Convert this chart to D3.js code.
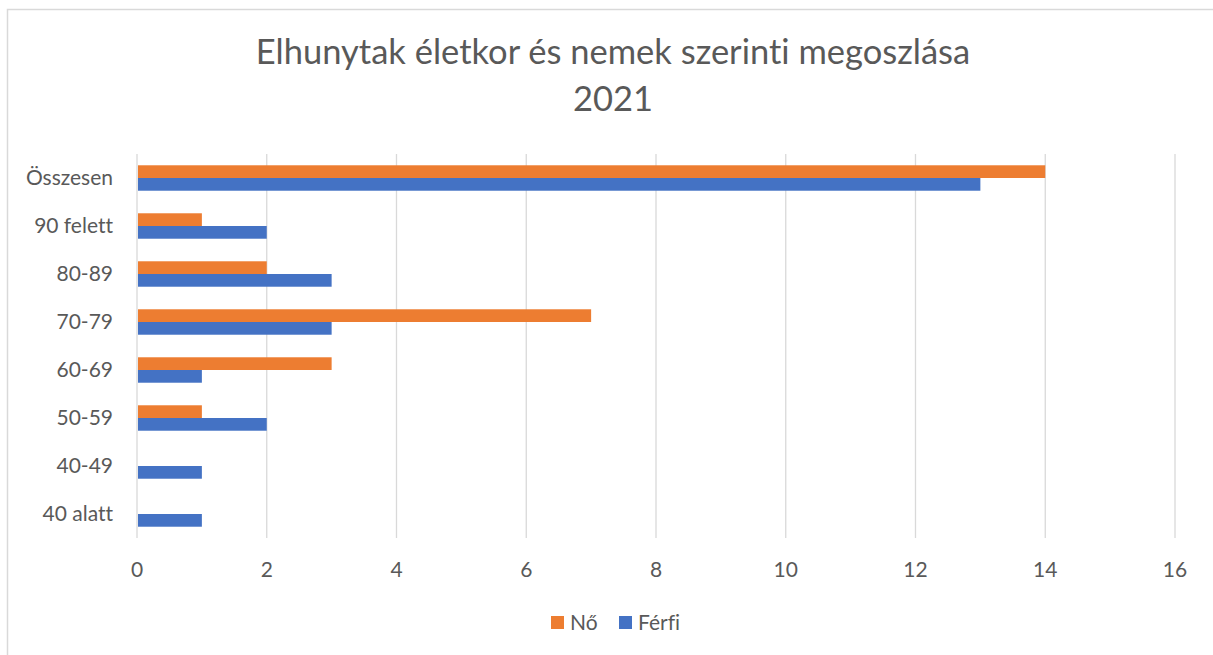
<!DOCTYPE html>
<html>
<head>
<meta charset="utf-8">
<script src="https://cdn.jsdelivr.net/npm/d3@7"></script>
<style>
  body { margin: 0; background: #fff; }
  text { font-family: Lato, "Open Sans", sans-serif; fill: #595959; font-variant-ligatures: none; }
</style>
</head>
<body>
<svg id="chart" width="1213" height="655"></svg>
<script>
const categories = ['Összesen', '90 felett', '80-89', '70-79', '60-69', '50-59', '40-49', '40 alatt']
const seriesNames = ['Nő', 'Férfi']
const noValues = [14, 1, 2, 7, 3, 1, 0, 0]
const ferfiValues = [13, 2, 3, 3, 1, 2, 1, 1]
const xTicks = [0, 2, 4, 6, 8, 10, 12, 14, 16]
const titleLines = ['Elhunytak életkor és nemek szerinti megoszlása', '2021']

const colors = { 'Nő': '#ED7D31', 'Férfi': '#4472C4' }

const svg = d3.select('#chart')
const width = 1213, height = 655
const margin = { left: 137, right: 38, top: 154, bottom: 117 }

// chart border (left + top only visible in the reference)
svg.append('path')
  .attr('d', 'M7.5,' + height + ' V9.5 H' + width)
  .attr('fill', 'none')
  .attr('stroke', '#D9D9D9')
  .attr('stroke-width', 1.5)

const x = d3.scaleLinear().domain([0, 16]).range([margin.left, width - margin.right])
const y = d3.scaleBand().domain(categories).range([margin.top, height - margin.bottom]).paddingInner(0.47).paddingOuter(0.235)
const ySub = d3.scaleBand().domain(seriesNames).range([0, y.bandwidth()])

// gridlines
svg.append('g').selectAll('line')
  .data(xTicks)
  .enter().append('line')
  .attr('x1', d => x(d)).attr('x2', d => x(d))
  .attr('y1', margin.top).attr('y2', height - margin.bottom)
  .attr('stroke', '#D9D9D9')
  .attr('stroke-width', 1.3)

// bars
const rows = categories.map((c, i) => ({ cat: c, vals: [{ s: 'Nő', v: noValues[i] }, { s: 'Férfi', v: ferfiValues[i] }] }))
const grp = svg.append('g').selectAll('g')
  .data(rows)
  .enter().append('g')
  .attr('transform', d => 'translate(0,' + y(d.cat) + ')')

grp.selectAll('rect')
  .data(d => d.vals)
  .enter().append('rect')
  .attr('x', x(0) + 1)
  .attr('y', d => ySub(d.s))
  .attr('width', d => Math.max(0, x(d.v) - x(0) - 1))
  .attr('height', ySub.bandwidth())
  .attr('fill', d => colors[d.s])

// category labels
svg.append('g').selectAll('text')
  .data(categories)
  .enter().append('text')
  .attr('x', 113)
  .attr('y', d => y(d) + y.bandwidth() / 2)
  .attr('dy', '0.35em')
  .attr('text-anchor', 'end')
  .style('font-size', '21px')
  .text(d => d)

// x tick labels
svg.append('g').selectAll('text')
  .data(xTicks)
  .enter().append('text')
  .attr('x', d => x(d))
  .attr('y', 577)
  .attr('text-anchor', 'middle')
  .style('font-size', '21px')
  .text(d => d)

// title
svg.append('g').selectAll('text')
  .data(titleLines)
  .enter().append('text')
  .attr('x', 613)
  .attr('y', (d, i) => 64 + i * 47)
  .attr('text-anchor', 'middle')
  .style('font-size', '34.5px')
  .text(d => d)

// legend
const legend = svg.append('g').selectAll('g')
  .data(seriesNames)
  .enter().append('g')
  .attr('transform', (d, i) => 'translate(' + (551 + i * 68) + ',616)')
legend.append('rect')
  .attr('width', 13).attr('height', 13)
  .attr('fill', d => colors[d])
legend.append('text')
  .attr('x', 19).attr('y', 7)
  .attr('dy', '0.35em')
  .style('font-size', '21px')
  .text(d => d)
</script>
</body>
</html>
